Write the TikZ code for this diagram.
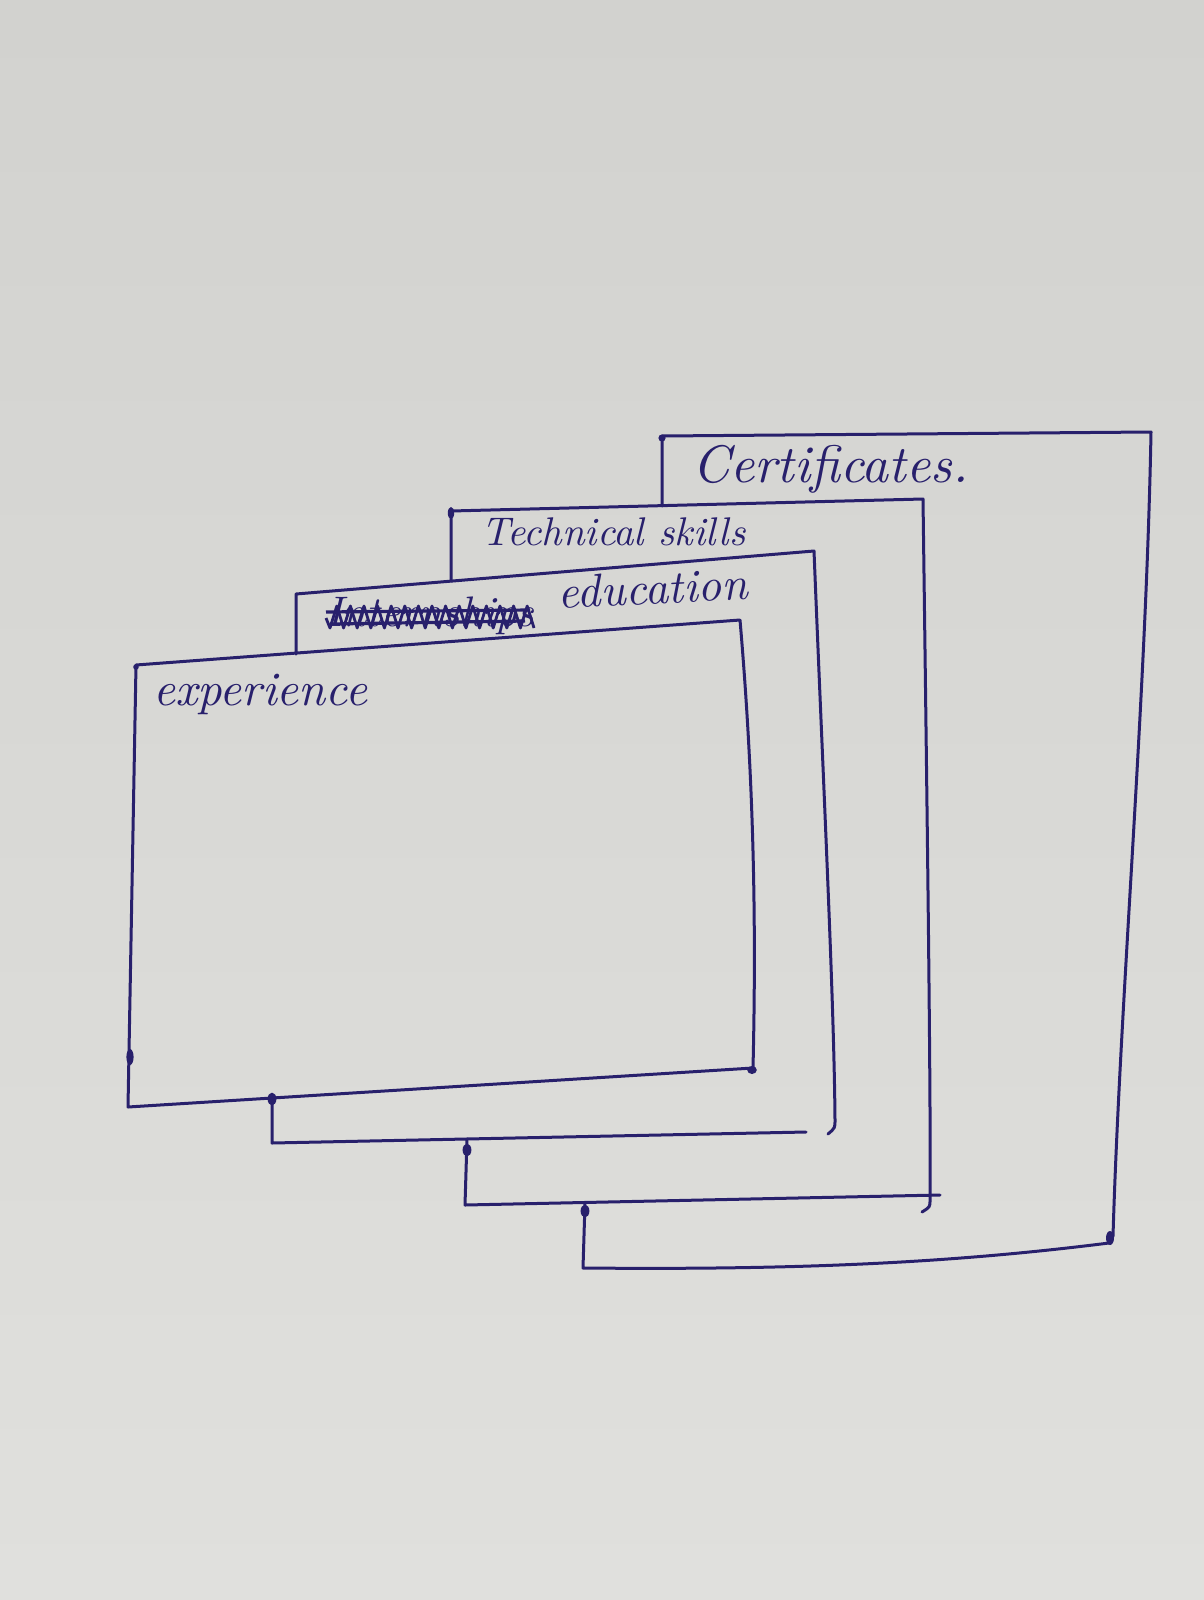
\documentclass[tikz,border=0pt]{standalone}
\usepackage{graphicx}
\definecolor{ink}{RGB}{40,32,108}
\definecolor{papertop}{RGB}{210,210,207}
\definecolor{paperbot}{RGB}{224,224,221}
\tikzset{
  card/.style={draw=ink, line width=1.5pt, line join=round, line cap=round},
  lab/.style={inner sep=0pt, text=ink, anchor=base west},
  blob/.style={fill=ink, draw=none},
}
\begin{document}
\begin{tikzpicture}[x=0.5pt,y=-0.5pt]
\useasboundingbox (0,0) rectangle (1204,1600);
\shade[top color=papertop, bottom color=paperbot] (0,0) rectangle (1204,1600);

% Card 4 : Certificates
\draw[card] (662,506) -- (662,436) -- (1151,432)
  .. controls (1146,700) and (1120,1000) .. (1113,1236) -- (1109,1243)
  .. controls (950,1263) and (800,1270) .. (583,1268) -- (585,1203);
% Card 3 : Technical skills
\draw[card] (451,581) -- (451,511) -- (923,499)
  .. controls (927,800) and (931,1100) .. (930,1200) .. controls (930,1207) .. (922,1212);
\draw[card] (940,1195) -- (465,1205) -- (467,1139);
% Card 2 : education
\draw[card] (296,654) -- (296,594) -- (814,551)
  .. controls (824,800) and (834,1000) .. (835,1120) .. controls (835,1128) .. (828,1134);
\draw[card] (806,1132) -- (272,1143) -- (272,1098);
% Card 1 : experience
\draw[card] (753,1068) -- (128,1107) -- (136,665) -- (740,620)
  .. controls (752,760) and (757,900) .. (753,1068);

% pen blobs
\fill[blob] (130,1057) ellipse (1.8pt and 4pt);
\fill[blob] (272,1099) ellipse (2.2pt and 3.2pt);
\fill[blob] (467,1150) ellipse (2.2pt and 3.2pt);
\fill[blob] (585,1211) ellipse (2.2pt and 3.2pt);
\fill[blob] (1110,1238) ellipse (2pt and 3.5pt);
\fill[blob] (752,1070) ellipse (2.4pt and 2pt);
\fill[blob] (662,438) circle (1.8pt);
\fill[blob] (451,513) ellipse (1.6pt and 3pt);
\fill[blob] (136,667) circle (1.4pt);

% labels
\node[lab] (cert) at (692,482) {\resizebox{138pt}{!}{\itshape Certificates.}};
\node[lab] (tech) at (481,545) {\resizebox{132pt}{!}{\itshape Technical skills}};
\node[lab, rotate=3] (edu) at (558,609) {\resizebox{95pt}{!}{\itshape education}};
\node[lab] (intern) at (326,626) {\resizebox{104pt}{!}{\itshape Internships}};
\node[lab] (exp) at (153,705) {\resizebox{107pt}{!}{\itshape experience}};

% scribble over "Internships"
\draw[ink, line width=1.4pt, line join=round] (326,618)
  \foreach \i in {0,...,30} { -- ({330+\i*6.8},{617+11*cos(180*\i)}) };
\draw[ink, line width=1.6pt] (326,612) -- (530,610);
\draw[ink, line width=1.6pt] (330,624) -- (525,621);
\end{tikzpicture}
\end{document}
